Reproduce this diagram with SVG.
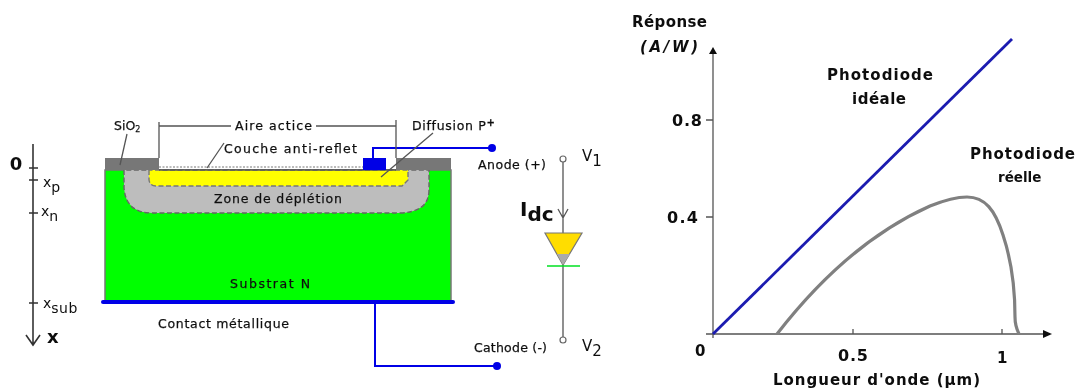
<svg xmlns="http://www.w3.org/2000/svg" width="1077" height="389" viewBox="0 0 1077 389">
<style>
text{font-family:"DejaVu Sans","Liberation Sans",sans-serif;fill:#111}
.s{font-size:12.5px;font-weight:500;stroke:#111;stroke-width:0.25}
.c{font-size:15px;font-weight:bold}
.l{fill:none;stroke:#555;stroke-width:1.3}
.k{fill:none;stroke:#333;stroke-width:1.6}
.w{fill:none;stroke:#0000e6;stroke-width:2}
.d{fill:#0000e6}
</style>
<defs>
<filter id="soft" x="-2%" y="-2%" width="104%" height="104%"><feGaussianBlur stdDeviation="0.45"/></filter>
</defs>
<rect width="1077" height="389" fill="#fff"/>
<g filter="url(#soft)">
<g id="device">
<rect x="105" y="170" width="346" height="132" fill="#00ff00" stroke="#777" stroke-width="1.5"/>
<path d="M124 170V188Q126 213 152 213H398Q429 213 429 190V170Z" fill="#bdbdbd" stroke="#666" stroke-width="1.4" stroke-dasharray="5 2.5"/>
<path d="M149 170V180Q150 186 156 186H402L408 180V170Z" fill="#ffff00" stroke="#777" stroke-width="1.4" stroke-dasharray="5 2.5"/>
<rect x="105" y="158" width="54" height="12" fill="#777"/>
<rect x="396" y="158" width="55" height="12" fill="#777"/>
<path d="M159 170H396" stroke="#555" stroke-width="1.4"/>
<path d="M159 167H363" stroke="#777" stroke-width="1" stroke-dasharray="2 1.5"/>
<rect x="363" y="158" width="23" height="12" fill="#0000e6"/>
<path d="M103 302H453" stroke="#0000e6" stroke-width="4" stroke-linecap="round"/>
</g>
<g id="connectors">
<path class="w" d="M373 158V148H492"/>
<circle class="d" cx="492" cy="148" r="4"/>
<path class="w" d="M375 302V366H497"/>
<circle class="d" cx="497" cy="366" r="4"/>
<path class="l" d="M159 122V158M159 126H231M316 126H396M396 120V158"/>
<path class="l" d="M127 134L120 165M224 143L207 168M433 133L381 177"/>
</g>
<g id="labels-device">
<text class="s" x="114" y="130">SiO<tspan font-size="8" dy="2">2</tspan></text>
<text class="s" x="235" y="130" textLength="77" lengthAdjust="spacing">Aire actice</text>
<text class="s" x="224" y="153" textLength="133" lengthAdjust="spacing">Couche anti-reflet</text>
<text class="s" x="412" y="130" letter-spacing="0.7">Diffusion P<tspan font-size="10" dy="-4" font-weight="bold">+</tspan></text>
<text class="s" x="214" y="203" textLength="128" lengthAdjust="spacing">Zone de déplétion</text>
<text class="s" x="230" y="288" textLength="80" lengthAdjust="spacing">Substrat N</text>
<text class="s" x="158" y="328" textLength="131" lengthAdjust="spacing">Contact métallique</text>
<text class="s" x="478" y="169" textLength="68" lengthAdjust="spacing">Anode (+)</text>
<text class="s" x="474" y="352" textLength="73" lengthAdjust="spacing">Cathode (-)</text>
</g>
<g id="depth-axis">
<path class="k" d="M33 144V344M26 335L33 345L40 335M29 168H38M29 180H38M29 213H38M29 303H38"/>
<text x="16" y="170" font-size="18" font-weight="bold" text-anchor="middle">0</text>
<text x="43" y="187" font-size="14">x<tspan dy="5">p</tspan></text>
<text x="41" y="216" font-size="14">x<tspan dy="5">n</tspan></text>
<text x="43" y="308" font-size="14">x<tspan dy="5" letter-spacing="0.5">sub</tspan></text>
<text x="47" y="343" font-size="18" font-weight="bold">x</text>
</g>
<g id="diode">
<path class="l" d="M563 162V337M558 209L563 218L568 209"/>
<circle cx="563" cy="159" r="3" fill="#fff" stroke="#666" stroke-width="1.2"/>
<circle cx="563" cy="340" r="3" fill="#fff" stroke="#666" stroke-width="1.2"/>
<path d="M545 233H582L563 265Z" fill="#ffdd00" stroke="#777" stroke-width="1.2"/>
<path d="M557 254H570L563 265Z" fill="#aaa"/>
<path d="M547 266H580" stroke="#00e020" stroke-width="1.6"/>
<text x="520" y="216" font-size="20" font-weight="bold">I<tspan dy="5">dc</tspan></text>
<text x="582" y="161" font-size="15">V<tspan dy="5">1</tspan></text>
<text x="582" y="351" font-size="15">V<tspan dy="5">2</tspan></text>
</g>
<g id="chart-axes">
<path class="l" d="M713 334V52M706 120H713M706 217H713M706 334H1046M713 334V338M853 334V329M1002 334V329"/>
<path d="M713 47L709 54H717Z M1052 334L1043 330V338Z" fill="#111"/>
</g>
<g id="chart-curves">
<path d="M713 334L1012 39" fill="none" stroke="#1a1ab0" stroke-width="2.8"/>
<path d="M777 334C815 285 865 235 930 206C950 198 960 197 967 197C985 197 995 210 1003 235C1012 262 1015 290 1015 317C1015 325 1017 330 1019 334" fill="none" stroke="#808080" stroke-width="3.2"/>
</g>
<g id="chart-labels">
<text class="c" x="632" y="27" textLength="75" lengthAdjust="spacing">Réponse</text>
<text class="c" x="640" y="52" textLength="58" lengthAdjust="spacing" font-style="italic">(A/W)</text>
<text class="c" x="827" y="80" textLength="106" lengthAdjust="spacing">Photodiode</text>
<text class="c" x="852" y="104" textLength="54" lengthAdjust="spacing">idéale</text>
<text class="c" x="970" y="159" textLength="105" lengthAdjust="spacing">Photodiode</text>
<text class="c" x="998" y="182" style="font-size:13.5px">réelle</text>
<text class="c" x="672" y="126" textLength="30" lengthAdjust="spacing" style="font-size:16px">0.8</text>
<text class="c" x="667" y="223" textLength="31" lengthAdjust="spacing" style="font-size:16px">0.4</text>
<text class="c" x="695" y="356">0</text>
<text class="c" x="838" y="361" textLength="30" lengthAdjust="spacing" style="font-size:16px">0.5</text>
<text class="c" x="997" y="363">1</text>
<text class="c" x="773" y="385" textLength="207" lengthAdjust="spacing">Longueur d'onde (µm)</text>
</g>
</g>
</svg>
